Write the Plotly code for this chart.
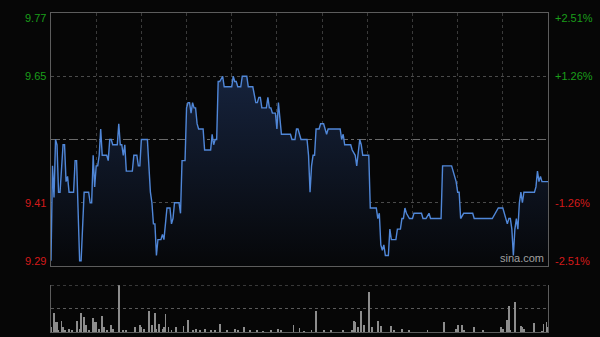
import plotly.graph_objects as go

# ---- data (minute index from 09:30, HK session = 330 minutes) ----
price_minute = [0, 1, 2, 3, 4, 5, 6, 8, 9, 10, 11, 12, 15, 16, 17, 18, 19, 20, 21, 22, 25, 26, 27, 28, 29, 30,
                31, 32, 33, 34, 37, 38, 39, 40, 41, 44, 45, 46, 47, 48, 49, 50, 54, 55, 57, 58, 59, 60, 64, 65,
                66, 67, 68, 69, 70, 71, 73, 74, 75, 77, 79, 80, 81, 82, 85, 86, 87, 89, 90, 91, 92, 93, 94, 95,
                96, 97, 98, 101, 102, 106, 107, 108, 109, 110, 111, 112, 114, 115, 120, 121, 122, 123, 124, 126,
                127, 130, 131, 134, 135, 136, 137, 138, 139, 140, 143, 144, 145, 146, 147, 149, 150, 151, 152,
                153, 159, 160, 162, 163, 164, 165, 166, 170, 171, 172, 173, 174, 175, 176, 178, 179, 181, 182,
                183, 184, 192, 193, 194, 195, 199, 200, 202, 203, 205, 206, 207, 211, 212, 216, 217, 218, 219,
                220, 221, 222, 224, 225, 226, 229, 230, 232, 233, 234, 235, 236, 238, 240, 241, 246, 247, 249,
                251, 252, 259, 260, 266, 268, 269, 270, 271, 272, 274, 280, 281, 293, 295, 297, 300, 301, 302,
                303, 304, 305, 306, 307, 308, 309, 310, 311, 312, 313, 314, 321, 322, 323, 324, 325, 326, 330]
price = [9.30, 9.48, 9.42, 9.53, 9.52, 9.43, 9.43, 9.52, 9.52, 9.45, 9.46, 9.43, 9.43, 9.49, 9.49, 9.41, 9.30,
         9.30, 9.36, 9.43, 9.43, 9.41, 9.41, 9.50, 9.44, 9.48, 9.48, 9.50, 9.55, 9.50, 9.50, 9.49, 9.53, 9.53,
         9.52, 9.52, 9.56, 9.52, 9.52, 9.50, 9.52, 9.47, 9.47, 9.50, 9.50, 9.48, 9.48, 9.53, 9.53, 9.48, 9.43,
         9.41, 9.37, 9.37, 9.31, 9.34, 9.34, 9.35, 9.34, 9.40, 9.40, 9.37, 9.38, 9.41, 9.41, 9.39, 9.49, 9.49,
         9.59, 9.60, 9.60, 9.58, 9.60, 9.59, 9.59, 9.56, 9.55, 9.55, 9.51, 9.51, 9.54, 9.52, 9.53, 9.53, 9.64,
         9.64, 9.65, 9.63, 9.63, 9.65, 9.64, 9.64, 9.63, 9.63, 9.65, 9.65, 9.63, 9.63, 9.61, 9.60, 9.60, 9.61,
         9.61, 9.59, 9.59, 9.61, 9.59, 9.59, 9.58, 9.58, 9.55, 9.60, 9.57, 9.54, 9.54, 9.53, 9.53, 9.55, 9.55,
         9.54, 9.53, 9.53, 9.50, 9.43, 9.48, 9.50, 9.50, 9.55, 9.55, 9.56, 9.56, 9.55, 9.54, 9.55, 9.55, 9.53,
         9.54, 9.52, 9.52, 9.51, 9.50, 9.48, 9.53, 9.52, 9.50, 9.50, 9.40, 9.40, 9.38, 9.39, 9.33, 9.32, 9.33,
         9.31, 9.31, 9.36, 9.34, 9.34, 9.36, 9.36, 9.38, 9.38, 9.40, 9.39, 9.38, 9.38, 9.39, 9.39, 9.38, 9.38,
         9.39, 9.38, 9.38, 9.48, 9.48, 9.46, 9.45, 9.43, 9.43, 9.38, 9.39, 9.39, 9.38, 9.38, 9.39, 9.40, 9.40,
         9.39, 9.38, 9.37, 9.38, 9.38, 9.36, 9.31, 9.36, 9.38, 9.36, 9.41, 9.43, 9.41, 9.43, 9.43, 9.44, 9.47,
         9.45, 9.46, 9.45, 9.45]

vol_minute = [0, 2, 3, 4, 5, 7, 8, 9, 12, 14, 17, 19, 20, 22, 23, 25, 28, 29, 30, 32, 34, 35, 37, 40, 41, 45,
              48, 50, 56, 59, 60, 62, 65, 67, 69, 70, 72, 74, 75, 76, 78, 80, 83, 88, 91, 94, 96, 99, 102, 106,
              109, 112, 117, 122, 124, 128, 132, 137, 141, 146, 151, 153, 161, 165, 168, 173, 176, 181, 186,
              194, 200, 201, 202, 204, 206, 208, 211, 213, 217, 219, 226, 228, 233, 238, 250, 261, 269, 270,
              273, 274, 281, 287, 299, 300, 303, 304, 305, 308, 312, 313, 314, 321, 326, 327, 329, 330]
volume = [50, 190, 100, 100, 20, 110, 50, 20, 30, 20, 110, 30, 190, 150, 70, 20, 140, 100, 100, 30, 160, 50,
          20, 70, 30, 470, 20, 15, 50, 70, 50, 30, 210, 70, 190, 30, 80, 30, 50, 180, 50, 20, 50, 60, 120, 15,
          30, 15, 30, 15, 20, 80, 15, 30, 20, 50, 15, 15, 10, 15, 30, 20, 70, 40, 10, 20, 210, 20, 15, 20, 15,
          110, 100, 50, 210, 70, 400, 50, 110, 60, 60, 20, 30, 20, 15, 100, 30, 70, 70, 20, 50, 15, 50, 30,
          120, 260, 15, 300, 60, 50, 30, 90, 10, 80, 100, 50]

prev_close = 9.53
price_range = [9.29, 9.77]
vol_max = 470
left_labels = ["9.77", "9.65", "9.41", "9.29"]
right_labels = ["+2.51%", "+1.26%", "-1.26%", "-2.51%"]
label_prices = [9.77, 9.65, 9.41, 9.29]
half_hours = [30, 60, 90, 120, 150, 180, 210, 240, 270, 300]

GREEN = "#1a9e1a"
RED = "#d41a1a"
BG = "#060606"
FONT = "Liberation Sans, Arial, sans-serif"

fig = go.Figure()

fig.add_trace(go.Scatter(
    x=price_minute, y=price, mode="lines",
    line=dict(color="#5087d8", width=1.4),
    fill="tozeroy",
    fillgradient=dict(type="vertical",
                      colorscale=[[0, "#060709"], [1, "#16233d"]],
                      start=price_range[0], stop=9.66),
    xaxis="x", yaxis="y", hoverinfo="skip", showlegend=False,
))

fig.add_trace(go.Bar(
    x=vol_minute, y=volume, width=0.6,
    marker=dict(color="#8c8c8c", line=dict(width=0)),
    xaxis="x2", yaxis="y2", hoverinfo="skip", showlegend=False,
))

main_bottom = (332 - 266) / 319
vol_top = (332 - 285) / 319

fig.update_layout(
    width=600, height=337,
    margin=dict(l=51, r=52, t=13, b=5),
    paper_bgcolor=BG, plot_bgcolor=BG,
    font=dict(family=FONT, size=11),
    bargap=0,
    xaxis=dict(domain=[0, 1], range=[0, 330], anchor="y",
               tickvals=half_hours, showticklabels=False, ticks="",
               showgrid=True, gridcolor="#3a3a3a", griddash="dot", gridwidth=1,
               showline=True, mirror=True, linecolor="#5c5c5c", linewidth=1,
               zeroline=False, fixedrange=True),
    yaxis=dict(domain=[main_bottom, 1], range=price_range, anchor="x",
               tickvals=[9.65, 9.41], showticklabels=False, ticks="",
               showgrid=True, gridcolor="#4a4a4a", griddash="dot", gridwidth=1,
               showline=True, mirror=True, linecolor="#5c5c5c", linewidth=1,
               zeroline=False, fixedrange=True),
    xaxis2=dict(domain=[0, 1], range=[0, 330], anchor="y2",
                showticklabels=False, ticks="", showgrid=False,
                showline=True, linecolor="#5c5c5c", linewidth=1,
                zeroline=False, fixedrange=True),
    yaxis2=dict(domain=[0, vol_top], range=[0, vol_max], anchor="x2",
                showticklabels=False, ticks="", showgrid=False,
                showline=True, mirror=True, linecolor="#5c5c5c", linewidth=1,
                zeroline=False, fixedrange=True),
    shapes=[
        dict(type="line", xref="x", yref="y", x0=0, x1=330, y0=prev_close, y1=prev_close,
             line=dict(color="#6a6a6a", width=1, dash="dashdot"), layer="below"),
        dict(type="line", xref="x2", yref="y2", x0=0, x1=330, y0=vol_max, y1=vol_max,
             line=dict(color="#6a6a6a", width=1, dash="dot")),
        dict(type="line", xref="x2", yref="y2", x0=0, x1=330, y0=vol_max / 2, y1=vol_max / 2,
             line=dict(color="#5a5a5a", width=1, dash="dot"), layer="below"),
    ],
)

annotations = []
n = len(label_prices)
for i, (lp, lt, rt) in enumerate(zip(label_prices, left_labels, right_labels)):
    color = GREEN if lp > prev_close else RED
    shift = -5 if i == 0 else (5 if i == n - 1 else 0)
    annotations.append(dict(xref="paper", yref="y", x=0, y=lp, xanchor="right", yanchor="middle",
                            xshift=-3, yshift=shift, text=lt, showarrow=False,
                            font=dict(color=color, size=11, family=FONT)))
    annotations.append(dict(xref="paper", yref="y", x=1, y=lp, xanchor="left", yanchor="middle",
                            xshift=5, yshift=shift, text=rt, showarrow=False,
                            font=dict(color=color, size=11, family=FONT)))
annotations.append(dict(xref="paper", yref="paper", x=0.947, y=main_bottom, xanchor="center",
                        yanchor="bottom", yshift=0, text="sina.com", showarrow=False,
                        font=dict(color="#a0a0a0", size=11, family=FONT)))
fig.update_layout(annotations=annotations)

fig.write_html("out.html")
